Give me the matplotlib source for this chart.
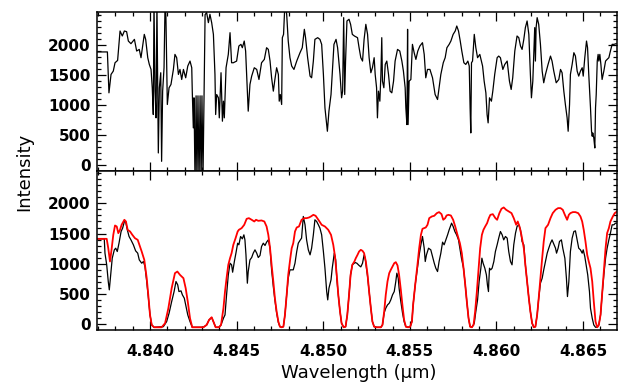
import matplotlib
matplotlib.use("Agg")
import matplotlib.pyplot as plt
from matplotlib.ticker import MultipleLocator

# ---------------- data ----------------
# Top panel: observed spectrum (black)
obs_wave = [4.83694, 4.83754, 4.83763, 4.83775, 4.83788, 4.83798, 4.83813, 4.83827, 4.83840, 4.83852,
            4.83865, 4.83875, 4.83890, 4.83910, 4.83923, 4.83938, 4.83948, 4.83967, 4.83975, 4.83987,
            4.83996, 4.84006, 4.84013, 4.84019, 4.84023, 4.84029, 4.84035, 4.84040, 4.84048, 4.84054,
            4.84062, 4.84067, 4.84073, 4.84081, 4.84087, 4.84092, 4.84100, 4.84110, 4.84121, 4.84135,
            4.84144, 4.84154, 4.84164, 4.84173, 4.84183, 4.84193, 4.84206, 4.84218, 4.84231, 4.84241,
            4.84244, 4.84250, 4.84254, 4.84260, 4.84266, 4.84271, 4.84277, 4.84283, 4.84289, 4.84295,
            4.84300, 4.84306, 4.84312, 4.84318, 4.84327, 4.84337, 4.84346, 4.84356, 4.84366, 4.84375,
            4.84379, 4.84385, 4.84395, 4.84400, 4.84410, 4.84418, 4.84424, 4.84429, 4.84439, 4.84452,
            4.84462, 4.84471, 4.84481, 4.84500, 4.84513, 4.84525, 4.84533, 4.84544, 4.84552, 4.84562,
            4.84567, 4.84577, 4.84587, 4.84602, 4.84616, 4.84629, 4.84644, 4.84660, 4.84673, 4.84683,
            4.84693, 4.84702, 4.84712, 4.84721, 4.84731, 4.84741, 4.84746, 4.84752, 4.84760, 4.84764,
            4.84771, 4.84779, 4.84789, 4.84798, 4.84808, 4.84818, 4.84831, 4.84847, 4.84866, 4.84879,
            4.84891, 4.84898, 4.84910, 4.84924, 4.84933, 4.84943, 4.84952, 4.84968, 4.84981, 4.84991,
            4.85001, 4.85010, 4.85024, 4.85033, 4.85045, 4.85052, 4.85062, 4.85074, 4.85083, 4.85097,
            4.85106, 4.85112, 4.85118, 4.85124, 4.85129, 4.85137, 4.85149, 4.85158, 4.85168, 4.85180,
            4.85198, 4.85207, 4.85217, 4.85227, 4.85236, 4.85246, 4.85256, 4.85265, 4.85275, 4.85284,
            4.85294, 4.85300, 4.85308, 4.85313, 4.85319, 4.85327, 4.85333, 4.85338, 4.85342, 4.85350,
            4.85358, 4.85367, 4.85377, 4.85386, 4.85396, 4.85406, 4.85415, 4.85429, 4.85442, 4.85454,
            4.85463, 4.85473, 4.85477, 4.85483, 4.85487, 4.85490, 4.85496, 4.85506, 4.85515, 4.85525,
            4.85535, 4.85546, 4.85558, 4.85573, 4.85583, 4.85592, 4.85602, 4.85616, 4.85631, 4.85646,
            4.85660, 4.85669, 4.85679, 4.85693, 4.85704, 4.85714, 4.85727, 4.85737, 4.85750, 4.85762,
            4.85771, 4.85781, 4.85791, 4.85800, 4.85812, 4.85823, 4.85835, 4.85843, 4.85848, 4.85852,
            4.85856, 4.85862, 4.85872, 4.85881, 4.85891, 4.85904, 4.85920, 4.85929, 4.85939, 4.85946,
            4.85952, 4.85960, 4.85971, 4.85979, 4.85990, 4.86004, 4.86013, 4.86023, 4.86037, 4.86048,
            4.86062, 4.86075, 4.86085, 4.86094, 4.86106, 4.86119, 4.86129, 4.86139, 4.86148, 4.86158,
            4.86167, 4.86177, 4.86187, 4.86196, 4.86202, 4.86210, 4.86218, 4.86221, 4.86225, 4.86229,
            4.86235, 4.86244, 4.86254, 4.86264, 4.86273, 4.86283, 4.86298, 4.86312, 4.86321, 4.86331,
            4.86345, 4.86360, 4.86370, 4.86379, 4.86389, 4.86398, 4.86408, 4.86414, 4.86422, 4.86427,
            4.86437, 4.86447, 4.86456, 4.86466, 4.86475, 4.86485, 4.86495, 4.86501, 4.86510, 4.86520,
            4.86526, 4.86533, 4.86543, 4.86549, 4.86553, 4.86556, 4.86562, 4.86568, 4.86572, 4.86576,
            4.86582, 4.86587, 4.86591, 4.86597, 4.86603, 4.86610, 4.86620, 4.86630, 4.86639, 4.86649,
            4.86658, 4.86668, 4.86678, 4.86691]
obs_int = [1880, 1880, 1200, 1506, 1561, 1700, 1739, 2228, 2145, 2228,
           2217, 2061, 2017, 2089, 1895, 1922, 1784, 2172, 2089, 1784,
           1672, 1589, 1284, 839, 2700, 1228, 784, 2700, 200, 1284,
           1534, 61, 1228, 1617, 2700, 2450, 1006, 1284, 1339, 1589,
           1839, 1784, 1506, 1589, 1422, 1589, 1450, 1645, 1728, 1617,
           1228, 617, 1117, -300, 1150, -300, 1150, -300, 1150, -300,
           1150, -200, 1100, 2500, 2534, 2367, 2506, 2367, 2172, 1506,
           839, 1172, 1117, 784, 1534, 728, 1061, 784, 1617, 1839,
           2200, 1700, 1700, 1728, 1978, 2006, 1950, 2061, 1895, 1228,
           895, 1339, 1478, 1617, 1589, 1422, 1700, 1756, 1950, 1922,
           1728, 1450, 1228, 1422, 1617, 1506, 1061, 1172, 1006, 2117,
           2172, 2700, 2506, 2061, 1784, 1645, 1589, 1728, 1867, 1950,
           2256, 2117, 1784, 1478, 1450, 1728, 2089, 2117, 2089, 2006,
           1506, 950, 561, 895, 1172, 1506, 2006, 2089, 1950, 1506,
           1117, 1228, 2450, 1172, 1728, 2395, 2423, 2339, 2172, 2145,
           2117, 1950, 1784, 1728, 2089, 2339, 2172, 1784, 1534, 1617,
           1784, 1506, 1284, 784, 1228, 1061, 1506, 2117, 1395, 1284,
           1672, 1728, 1506, 1228, 1200, 1395, 1728, 1922, 1895, 1728,
           1561, 1284, 950, 672, 2256, 672, 1395, 1422, 2006, 1867,
           1756, 1895, 1978, 2034, 1839, 1450, 1589, 1589, 1450, 1172,
           1089, 1284, 1506, 1700, 1784, 1950, 2006, 2061, 2172, 2228,
           2311, 2228, 2061, 1895, 1700, 1672, 1728, 1645, 950, 533,
           1700, 1728, 2172, 1950, 1784, 1839, 1645, 1395, 1200, 839,
           700, 1117, 1061, 1228, 1506, 1784, 1811, 1784, 1589, 1672,
           1728, 1395, 1256, 1450, 1895, 2145, 2117, 1978, 1922, 2089,
           2284, 2395, 2172, 1506, 1117, 1395, 2061, 2284, 1728, 2284,
           2450, 2339, 2006, 1561, 1367, 1506, 1672, 1811, 1728, 1561,
           1367, 1422, 1589, 1534, 1228, 1006, 784, 561, 1006, 1506,
           1672, 1867, 1811, 1561, 1478, 1561, 1617, 1478, 1784, 2061,
           1950, 1506, 950, 561, 478, 533, 450, 283, 950, 1172,
           1728, 1839, 1728, 1839, 1672, 1422, 1561, 1728, 1756, 1784,
           1895, 2006, 2006, 2017]

# Bottom panel: model spectrum (red)
model_wave = [4.83694, 4.83750, 4.83759, 4.83769, 4.83779, 4.83788, 4.83798, 4.83808, 4.83817, 4.83827,
              4.83836, 4.83852, 4.83861, 4.83871, 4.83885, 4.83898, 4.83913, 4.83929, 4.83942, 4.83952,
              4.83967, 4.83981, 4.83990, 4.84000, 4.84010, 4.84023, 4.84067, 4.84087, 4.84106, 4.84125,
              4.84144, 4.84158, 4.84173, 4.84193, 4.84206, 4.84218, 4.84231, 4.84244, 4.84308, 4.84327,
              4.84341, 4.84356, 4.84366, 4.84379, 4.84398, 4.84410, 4.84424, 4.84433, 4.84442, 4.84452,
              4.84462, 4.84471, 4.84481, 4.84494, 4.84506, 4.84513, 4.84529, 4.84544, 4.84558, 4.84571,
              4.84587, 4.84602, 4.84612, 4.84625, 4.84644, 4.84660, 4.84673, 4.84683, 4.84693, 4.84702,
              4.84712, 4.84721, 4.84731, 4.84741, 4.84750, 4.84760, 4.84770, 4.84779, 4.84789, 4.84798,
              4.84810, 4.84818, 4.84827, 4.84837, 4.84847, 4.84860, 4.84875, 4.84891, 4.84904, 4.84918,
              4.84929, 4.84943, 4.84956, 4.84972, 4.84991, 4.85010, 4.85029, 4.85045, 4.85058, 4.85068,
              4.85078, 4.85087, 4.85097, 4.85106, 4.85118, 4.85129, 4.85139, 4.85149, 4.85158, 4.85168,
              4.85180, 4.85188, 4.85198, 4.85207, 4.85217, 4.85227, 4.85236, 4.85246, 4.85256, 4.85265,
              4.85275, 4.85284, 4.85294, 4.85308, 4.85333, 4.85342, 4.85352, 4.85361, 4.85371, 4.85381,
              4.85390, 4.85400, 4.85410, 4.85419, 4.85429, 4.85438, 4.85448, 4.85458, 4.85467, 4.85477,
              4.85490, 4.85502, 4.85512, 4.85519, 4.85531, 4.85544, 4.85554, 4.85564, 4.85573, 4.85592,
              4.85602, 4.85612, 4.85627, 4.85641, 4.85656, 4.85669, 4.85683, 4.85693, 4.85704, 4.85712,
              4.85723, 4.85737, 4.85750, 4.85762, 4.85775, 4.85789, 4.85800, 4.85810, 4.85820, 4.85829,
              4.85839, 4.85848, 4.85858, 4.85868, 4.85877, 4.85887, 4.85897, 4.85906, 4.85916, 4.85925,
              4.85935, 4.85946, 4.85956, 4.85965, 4.85979, 4.85994, 4.86004, 4.86017, 4.86029, 4.86042,
              4.86056, 4.86071, 4.86087, 4.86100, 4.86114, 4.86123, 4.86133, 4.86144, 4.86158, 4.86167,
              4.86177, 4.86187, 4.86196, 4.86206, 4.86216, 4.86225, 4.86235, 4.86244, 4.86254, 4.86264,
              4.86273, 4.86283, 4.86298, 4.86312, 4.86325, 4.86341, 4.86356, 4.86370, 4.86383, 4.86395,
              4.86408, 4.86418, 4.86427, 4.86441, 4.86456, 4.86472, 4.86485, 4.86495, 4.86504, 4.86514,
              4.86524, 4.86533, 4.86543, 4.86553, 4.86562, 4.86572, 4.86582, 4.86591, 4.86601, 4.86610,
              4.86620, 4.86630, 4.86639, 4.86649, 4.86658, 4.86672, 4.86683, 4.86697]
model_int = [1413, 1413, 1258, 1038, 1258, 1479, 1634, 1617, 1507, 1562,
             1645, 1728, 1700, 1562, 1534, 1479, 1424, 1396, 1286, 1203,
             1065, 762, 486, 155, -11, -50, -50, 17, 265, 596,
             845, 872, 817, 762, 596, 375, 99, -50, -50, -11,
             72, 116, 44, -50, -50, -11, 265, 541, 762, 983,
             1093, 1176, 1314, 1424, 1534, 1562, 1590, 1645, 1744, 1755,
             1728, 1700, 1728, 1711, 1717, 1700, 1617, 1479, 1258, 983,
             707, 431, 210, 44, -40, -50, -40, 155, 486, 817,
             1093, 1258, 1341, 1534, 1601, 1617, 1728, 1755, 1755, 1766,
             1783, 1810, 1794, 1728, 1645, 1617, 1562, 1479, 1314, 1121,
             817, 486, 210, 17, -50, -40, 155, 486, 817, 983,
             1038, 1093, 1148, 1203, 1231, 1214, 1176, 1038, 817, 541,
             265, 44, -40, -50, -50, -11, 210, 486, 707, 845,
             900, 955, 1010, 1027, 972, 817, 569, 293, 72, -40,
             -50, -40, 44, 320, 651, 983, 1258, 1479, 1579, 1601,
             1645, 1755, 1783, 1794, 1838, 1855, 1821, 1728, 1755, 1799,
             1810, 1799, 1728, 1617, 1479, 1341, 1176, 927, 651, 375,
             99, -40, -50, -11, 210, 541, 927, 1258, 1479, 1562,
             1617, 1672, 1755, 1810, 1821, 1755, 1728, 1838, 1910, 1932,
             1893, 1866, 1838, 1755, 1645, 1700, 1617, 1479, 1258, 983,
             707, 431, 210, 17, -50, -40, 155, 431, 762, 1093,
             1369, 1590, 1645, 1755, 1838, 1893, 1921, 1921, 1893, 1810,
             1728, 1810, 1838, 1855, 1855, 1838, 1783, 1700, 1562, 1369,
             1148, 1038, 927, 707, 375, 44, -50, -11, 155, 486,
             872, 1258, 1507, 1590, 1700, 1783, 1838, 1866]

# Bottom panel: observed spectrum (black)
data_wave = [4.83694, 4.83736, 4.83740, 4.83750, 4.83759, 4.83765, 4.83775, 4.83782, 4.83794, 4.83802,
             4.83811, 4.83821, 4.83833, 4.83842, 4.83852, 4.83859, 4.83869, 4.83879, 4.83890, 4.83904,
             4.83917, 4.83929, 4.83938, 4.83952, 4.83962, 4.83971, 4.83981, 4.83990, 4.84000, 4.84010,
             4.84023, 4.84077, 4.84096, 4.84110, 4.84125, 4.84139, 4.84150, 4.84160, 4.84167, 4.84179,
             4.84187, 4.84198, 4.84206, 4.84218, 4.84231, 4.84244, 4.84308, 4.84327, 4.84341, 4.84356,
             4.84366, 4.84379, 4.84398, 4.84410, 4.84424, 4.84433, 4.84442, 4.84452, 4.84462, 4.84471,
             4.84477, 4.84487, 4.84496, 4.84506, 4.84513, 4.84523, 4.84533, 4.84542, 4.84548, 4.84554,
             4.84562, 4.84567, 4.84577, 4.84587, 4.84596, 4.84606, 4.84616, 4.84625, 4.84635, 4.84644,
             4.84654, 4.84664, 4.84673, 4.84683, 4.84693, 4.84702, 4.84712, 4.84721, 4.84731, 4.84741,
             4.84750, 4.84760, 4.84770, 4.84779, 4.84789, 4.84798, 4.84808, 4.84818, 4.84827, 4.84837,
             4.84847, 4.84856, 4.84868, 4.84875, 4.84885, 4.84895, 4.84904, 4.84914, 4.84924, 4.84933,
             4.84943, 4.84952, 4.84962, 4.84972, 4.84981, 4.84991, 4.85001, 4.85010, 4.85020, 4.85026,
             4.85033, 4.85045, 4.85052, 4.85064, 4.85072, 4.85078, 4.85087, 4.85097, 4.85106, 4.85118,
             4.85129, 4.85139, 4.85149, 4.85158, 4.85168, 4.85184, 4.85194, 4.85203, 4.85207, 4.85217,
             4.85227, 4.85236, 4.85242, 4.85250, 4.85256, 4.85265, 4.85275, 4.85284, 4.85294, 4.85308,
             4.85333, 4.85342, 4.85352, 4.85361, 4.85371, 4.85381, 4.85390, 4.85400, 4.85410, 4.85419,
             4.85425, 4.85433, 4.85438, 4.85448, 4.85458, 4.85467, 4.85477, 4.85490, 4.85502, 4.85512,
             4.85519, 4.85531, 4.85544, 4.85554, 4.85564, 4.85573, 4.85583, 4.85589, 4.85596, 4.85608,
             4.85621, 4.85631, 4.85641, 4.85650, 4.85660, 4.85669, 4.85679, 4.85689, 4.85698, 4.85708,
             4.85718, 4.85727, 4.85741, 4.85750, 4.85760, 4.85770, 4.85781, 4.85789, 4.85798, 4.85810,
             4.85820, 4.85829, 4.85839, 4.85848, 4.85858, 4.85872, 4.85881, 4.85891, 4.85900, 4.85910,
             4.85916, 4.85923, 4.85933, 4.85942, 4.85948, 4.85954, 4.85956, 4.85960, 4.85967, 4.85975,
             4.85985, 4.85994, 4.86004, 4.86013, 4.86023, 4.86033, 4.86042, 4.86052, 4.86062, 4.86071,
             4.86081, 4.86090, 4.86100, 4.86110, 4.86119, 4.86129, 4.86139, 4.86148, 4.86158, 4.86167,
             4.86177, 4.86187, 4.86196, 4.86206, 4.86216, 4.86225, 4.86235, 4.86244, 4.86254, 4.86264,
             4.86273, 4.86283, 4.86293, 4.86302, 4.86312, 4.86321, 4.86331, 4.86341, 4.86347, 4.86356,
             4.86364, 4.86375, 4.86383, 4.86395, 4.86404, 4.86410, 4.86418, 4.86427, 4.86437, 4.86447,
             4.86456, 4.86466, 4.86475, 4.86485, 4.86495, 4.86501, 4.86510, 4.86518, 4.86527, 4.86537,
             4.86543, 4.86553, 4.86562, 4.86572, 4.86582, 4.86591, 4.86601, 4.86610, 4.86620, 4.86630,
             4.86639, 4.86649, 4.86658, 4.86668, 4.86678, 4.86687, 4.86697]
data_int = [1413, 1413, 1176, 983, 707, 569, 872, 1093, 1231, 1258,
            1203, 1341, 1534, 1590, 1700, 1700, 1562, 1452, 1396, 1314,
            1214, 1176, 1065, 1010, 1038, 955, 707, 458, 155, -11,
            -50, -40, 44, 182, 375, 541, 707, 651, 541, 552,
            486, 431, 320, 155, 44, -50, -50, -11, 72, 110,
            44, -50, -50, -11, 100, 155, 486, 817, 1010, 983,
            861, 1038, 1176, 1341, 1314, 1452, 1413, 1479, 1396, 1148,
            679, 872, 1065, 1104, 1176, 1231, 1176, 1104, 1137, 1286,
            1341, 1303, 1358, 1396, 1258, 900, 620, 400, 190, 30,
            -40, -50, -40, 155, 486, 762, 900, 900, 900, 1010,
            1203, 1341, 1396, 1424, 1783, 1645, 1396, 1231, 1148, 1258,
            1479, 1728, 1700, 1645, 1590, 1479, 1203, 927, 541, 403,
            596, 734, 927, 1176, 1065, 762, 486, 210, 17, -50,
            -40, 155, 486, 817, 983, 1021, 1010, 983, 972, 949,
            1010, 1148, 1093, 927, 790, 541, 265, 44, -40, -50,
            -50, -11, 190, 265, 320, 348, 403, 486, 541, 707,
            845, 762, 596, 375, 182, 44, -40, -50, -40, 44,
            320, 651, 927, 1148, 1314, 1452, 1258, 1038, 1148, 1258,
            1231, 1121, 1010, 927, 872, 1038, 1176, 1358, 1314, 1396,
            1479, 1562, 1672, 1617, 1534, 1479, 1396, 1258, 1093, 927,
            651, 375, 99, -40, -50, 17, 210, 403, 707, 927,
            1093, 1010, 927, 817, 651, 541, 707, 927, 900, 927,
            1038, 1203, 1314, 1424, 1534, 1479, 1396, 1452, 1424, 1203,
            1038, 983, 1314, 1507, 1617, 1645, 1562, 1369, 1314, 983,
            707, 431, 210, 17, -50, -40, 155, 431, 679, 762,
            900, 1038, 1176, 1258, 1341, 1396, 1325, 1258, 1176, 1258,
            1369, 1396, 1258, 1093, 762, 458, 707, 1203, 1424, 1534,
            1545, 1396, 1258, 1231, 1176, 1231, 1121, 983, 817, 541,
            265, 99, -11, -50, -50, -11, 155, 486, 817, 1093,
            1258, 1396, 1507, 1645, 1645, 1672, 1672]

x_ticks = [4.840, 4.845, 4.850, 4.855, 4.860, 4.865]
x_ticklabels = ["4.840", "4.845", "4.850", "4.855", "4.860", "4.865"]
y_ticks = [0, 500, 1000, 1500, 2000]
y_ticklabels = ["0", "500", "1000", "1500", "2000"]

# ---------------- figure ----------------
W, H = 623, 382
fig = plt.figure(figsize=(W / 100, H / 100), dpi=100)

left = 97 / W
width = 520 / W
ax_top = fig.add_axes([left, 1 - 171 / H, width, 159 / H])
ax_bot = fig.add_axes([left, 1 - 330 / H, width, 159 / H])

ax_top.plot(obs_wave, obs_int, color="black", lw=0.9)
ax_bot.plot(data_wave, data_int, color="black", lw=0.9)
ax_bot.plot(model_wave, model_int, color="red", lw=1.3)

tick_font = dict(family="DejaVu Sans", weight="bold", size=11)
for ax, ylim in ((ax_top, (-100, 2544)), (ax_bot, (-95, 2535))):
    ax.set_xlim(4.83694, 4.86696)
    ax.set_ylim(*ylim)
    ax.set_xticks(x_ticks)
    ax.xaxis.set_minor_locator(MultipleLocator(0.001))
    ax.set_yticks(y_ticks)
    ax.set_yticklabels(y_ticklabels, fontdict=tick_font)
    ax.yaxis.set_minor_locator(MultipleLocator(100))
    ax.tick_params(which="both", direction="in", top=True, right=True, width=0.9)
    ax.tick_params(which="major", length=6.5)
    ax.tick_params(which="minor", length=3.2)
    ax.tick_params(axis="y", pad=4.5)
    for s in ax.spines.values():
        s.set_linewidth(1.1)

ax_top.set_xticklabels([])
ax_bot.set_xticklabels(x_ticklabels, fontdict=tick_font)
ax_bot.tick_params(axis="x", pad=10)

fig.text(358.5 / W, 1 - 378 / H, "Wavelength (\u03bcm)", ha="center", va="baseline",
         family="DejaVu Sans", size=13)
fig.text(24.5 / W, 1 - 171.7 / H, "Intensity", rotation=90, ha="center", va="center",
         family="DejaVu Sans", size=13)

fig.savefig("out.png", dpi=100)
